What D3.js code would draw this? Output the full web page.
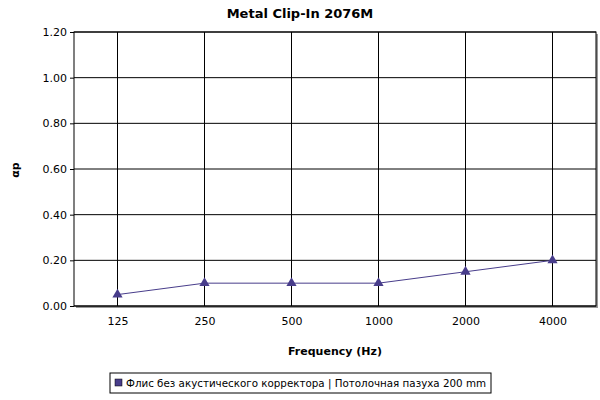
<!DOCTYPE html>
<html><head><meta charset="utf-8">
<script src="https://cdn.jsdelivr.net/npm/d3@7"></script>
<style>body{margin:0;background:#fff}text{font-family:"DejaVu Sans",sans-serif}</style>
</head><body><svg id="c" width="600" height="400"></svg>
<script>
const categories = ["125","250","500","1000","2000","4000"];
const values = [0.05,0.10,0.10,0.10,0.15,0.20];
const yTicks = [0,0.2,0.4,0.6,0.8,1.0,1.2];
const seriesName = "Флис без акустического корректора | Потолочная пазуха 200 mm";
const color = "#483d8b";

const svg = d3.select("#c");
const L=74,R=596,T=32,B=306;
const x = d3.scalePoint().domain(categories).range([L,R]).padding(0.5);
const y = d3.scaleLinear().domain([0,1.2]).range([B,T]);

svg.append("rect").attr("x",L+2).attr("y",T+2).attr("width",R-L).attr("height",B-T).attr("fill","#999");
svg.append("rect").attr("x",L).attr("y",T).attr("width",R-L).attr("height",B-T).attr("fill","#fff").attr("stroke","#000");

svg.append("g").selectAll("line").data(yTicks).join("line")
 .attr("x1",L).attr("x2",R).attr("y1",d=>y(d)).attr("y2",d=>y(d)).attr("stroke","#000");
svg.append("g").selectAll("line").data(categories).join("line")
 .attr("x1",d=>x(d)).attr("x2",d=>x(d)).attr("y1",T).attr("y2",B).attr("stroke","#000");

const ya = svg.append("g").attr("transform",`translate(${L},0)`)
 .call(d3.axisLeft(y).tickValues(yTicks).tickFormat(d3.format(".2f")).tickSize(4));
ya.select(".domain").remove();
ya.selectAll("text").attr("font-size",11).attr("font-family","DejaVu Sans");
const xa = svg.append("g").attr("transform",`translate(0,${B})`)
 .call(d3.axisBottom(x).tickSize(0).tickPadding(11));
xa.select(".domain").remove();
xa.selectAll("text").attr("font-size",11).attr("font-family","DejaVu Sans");

svg.append("path").datum(values.map((v,i)=>[x(categories[i]),y(v)]))
 .attr("d",d3.line()).attr("fill","none").attr("stroke",color);
svg.append("g").selectAll("path").data(values).join("path")
 .attr("d",d3.symbol(d3.symbolTriangle,45)())
 .attr("transform",(d,i)=>`translate(${x(categories[i])},${y(d)})`).attr("fill",color);

svg.append("text").attr("x",300).attr("y",18).attr("text-anchor","middle").attr("font-size",13).attr("font-weight","bold").text("Metal Clip-In 2076M");
svg.append("text").attr("x",335).attr("y",355).attr("text-anchor","middle").attr("font-size",11).attr("font-weight","bold").text("Frequency (Hz)");
svg.append("text").attr("transform","translate(19,170) rotate(-90)").attr("text-anchor","middle").attr("font-size",11).attr("font-weight","bold").text("αp");

svg.append("rect").attr("x",110).attr("y",373).attr("width",381).attr("height",20).attr("fill","#fff").attr("stroke","#000");
svg.append("rect").attr("x",115).attr("y",379).attr("width",7).attr("height",7).attr("fill",color).attr("stroke","#000").attr("stroke-width",0.5);
svg.append("text").attr("x",126).attr("y",387).attr("font-size",11).attr("textLength",360).attr("lengthAdjust","spacingAndGlyphs").text(seriesName);
</script></body></html>
